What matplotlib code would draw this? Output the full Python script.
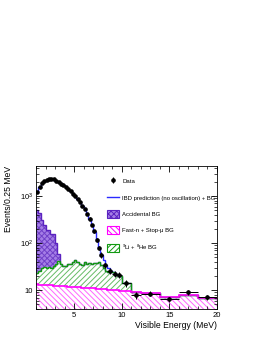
import numpy as np
import matplotlib
matplotlib.use('Agg')
import matplotlib.pyplot as plt
from matplotlib.patches import Patch
from matplotlib.lines import Line2D

plt.rcParams['font.family'] = ['Liberation Sans', 'DejaVu Sans']
plt.rcParams['mathtext.default'] = 'regular'
plt.rcParams['hatch.linewidth'] = 0.7

# data points (per 0.25 MeV)
data_edges = [1.0, 1.25, 1.5, 1.75, 2.0, 2.25, 2.5, 2.75, 3.0, 3.25, 3.5, 3.75, 4.0, 4.25,
              4.5, 4.75, 5.0, 5.25, 5.5, 5.75, 6.0, 6.25, 6.5, 6.75, 7.0, 7.25, 7.5, 7.75,
              8.0, 8.5, 9.0, 9.5, 10.0, 11.0, 12.0, 14.0, 16.0, 18.0, 20.0]
data_y = [1240, 1580, 1880, 2150, 2240, 2360, 2310, 2280, 2110, 2010, 1850, 1720, 1540, 1450,
          1260, 1140, 990, 880, 770, 620, 540, 420, 335, 245, 178, 118, 80, 56,
          34, 26, 22, 21, 14, 7.8, 8.5, 6.4, 9.2, 7.2]
data_yerr = [35, 40, 43, 46, 47, 49, 48, 48, 46, 45, 43, 41, 39, 38,
             35, 34, 31, 30, 28, 25, 23, 20, 18, 16, 13, 11, 9, 7.5,
             4, 3.5, 3.3, 3.2, 2.2, 1.3, 1.0, 0.9, 1.1, 0.9]

# IBD prediction (no oscillation) + BG
pred_edges = [1.0 + 0.25 * i for i in range(37)]
pred_y = [1250, 1550, 1900, 2120, 2260, 2330, 2330, 2260, 2130, 2000, 1870, 1700, 1560, 1430,
          1280, 1130, 1000, 890, 760, 630, 530, 430, 330, 250, 175, 120, 78, 57,
          43, 35, 29, 26, 24.5, 22, 21.5, 20.5]

# backgrounds (stacked)
bg_edges = [1.0 + 0.25 * i for i in range(41)] + [12.0, 14.0, 16.0, 18.0, 20.0]
fastn = [13.3, 13.2, 13.1, 13.0, 12.9, 12.8, 12.7, 12.6, 12.5, 12.4,
         12.3, 12.2, 12.1, 12.0, 11.9, 11.8, 11.7, 11.6, 11.5, 11.4,
         11.3, 11.2, 11.1, 11.0, 10.9, 10.8, 10.7, 10.6, 10.5, 10.4,
         10.3, 10.2, 10.1, 10.0, 9.9, 9.8, 9.7, 9.6, 9.5, 9.4,
         9.3, 8.7, 7.3, 7.8, 6.9]
li_top = [23, 26, 30, 31, 30, 31, 30, 32, 37, 41,
          37, 33, 32, 37, 36, 40, 45, 40, 36, 35,
          40, 37, 38, 37, 38, 38, 40, 34, 30, 26,
          25, 24, 24, 21, 21, 20, 14, 14, 14, 14]
acc_top = [500, 430, 310, 240, 190, 190, 160, 160, 100, 60]

li_full = np.array(li_top + fastn[40:], dtype=float)
acc_full = li_full.copy()
acc_full[:len(acc_top)] = acc_top
fastn = np.array(fastn)

fig = plt.figure(figsize=(2.61, 3.38), dpi=100)
ax = fig.add_axes([0.138, 0.086, 0.693, 0.423])

ax.stairs(fastn, bg_edges, baseline=1.0, fill=True, facecolor='white',
          edgecolor='#ff66ff', hatch='\\\\\\\\\\\\', linewidth=0)
ax.stairs(li_full, bg_edges, baseline=fastn, fill=True, facecolor='white',
          edgecolor='#66bb66', hatch='//////', linewidth=0)
ax.stairs(acc_full, bg_edges, baseline=li_full, fill=True, facecolor='#a47de6',
          edgecolor='#7040c8', hatch='xxxxxx', linewidth=0)

ax.stairs(acc_full, bg_edges, baseline=None, color='#5a22c0', linewidth=1.0)
ax.stairs(pred_y, pred_edges, baseline=None, color='#2a2aff', linewidth=1.0)
ax.stairs(li_full, bg_edges, baseline=None, color='#119911', linewidth=1.0)
ax.stairs(fastn, bg_edges, baseline=None, color='#ff00ff', linewidth=1.2)

de = np.array(data_edges)
dx = (de[1:] + de[:-1]) / 2
dxerr = (de[1:] - de[:-1]) / 2
ax.errorbar(dx, data_y, xerr=dxerr, yerr=data_yerr, fmt='o', ms=2.3, color='k',
            elinewidth=0.7, capsize=0, zorder=5)

ax.set_yscale('log')
ax.set_xlim(1.0, 20.0)
ax.set_ylim(4, 4400)
ax.set_xticks([5, 10, 15, 20])
ax.set_xticklabels(['5', '10', '15', '20'])
ax.set_xticks(np.arange(1, 21, 1), minor=True)
ax.set_yticks([10, 100, 1000])
ax.set_yticklabels(['10', '$10^{2}$', '$10^{3}$'])
ax.tick_params(which='both', direction='in', top=True, right=True, labelsize=5.5, pad=2)
ax.tick_params(which='major', length=4, width=0.6)
ax.tick_params(which='minor', length=2, width=0.5)
for s in ax.spines.values():
    s.set_linewidth(0.6)

ax.set_xlabel('Visible Energy (MeV)', fontsize=6.2, loc='right', labelpad=2)
ax.set_ylabel('Events/0.25 MeV', fontsize=6.2, loc='top', labelpad=5)

h_data = ax.errorbar([np.nan], [np.nan], yerr=[1], fmt='o', ms=2.3, color='k',
                     elinewidth=0.8, capsize=0)
handles = [
    h_data,
    Line2D([], [], color='#2a2aff', linewidth=1.0),
    Patch(facecolor='#a47de6', edgecolor='#5a22c0', hatch='xxxxxx', linewidth=0.8),
    Patch(facecolor='white', edgecolor='#ff00ff', hatch='\\\\\\\\\\\\', linewidth=0.8),
    Patch(facecolor='white', edgecolor='#119911', hatch='//////', linewidth=0.8),
]
labels = ['Data', 'IBD prediction (no oscillation) + BG', 'Accidental BG',
          'Fast-n + Stop-μ BG', '$^{9}$Li + $^{8}$He BG']
fig.legend(handles, labels, loc='upper left', bbox_to_anchor=(0.398, 0.484),
           frameon=False, fontsize=4.3, borderpad=0, labelspacing=1.45,
           handlelength=2.0, handleheight=1.6, handletextpad=0.6)

fig.savefig('out.png', dpi=100)
